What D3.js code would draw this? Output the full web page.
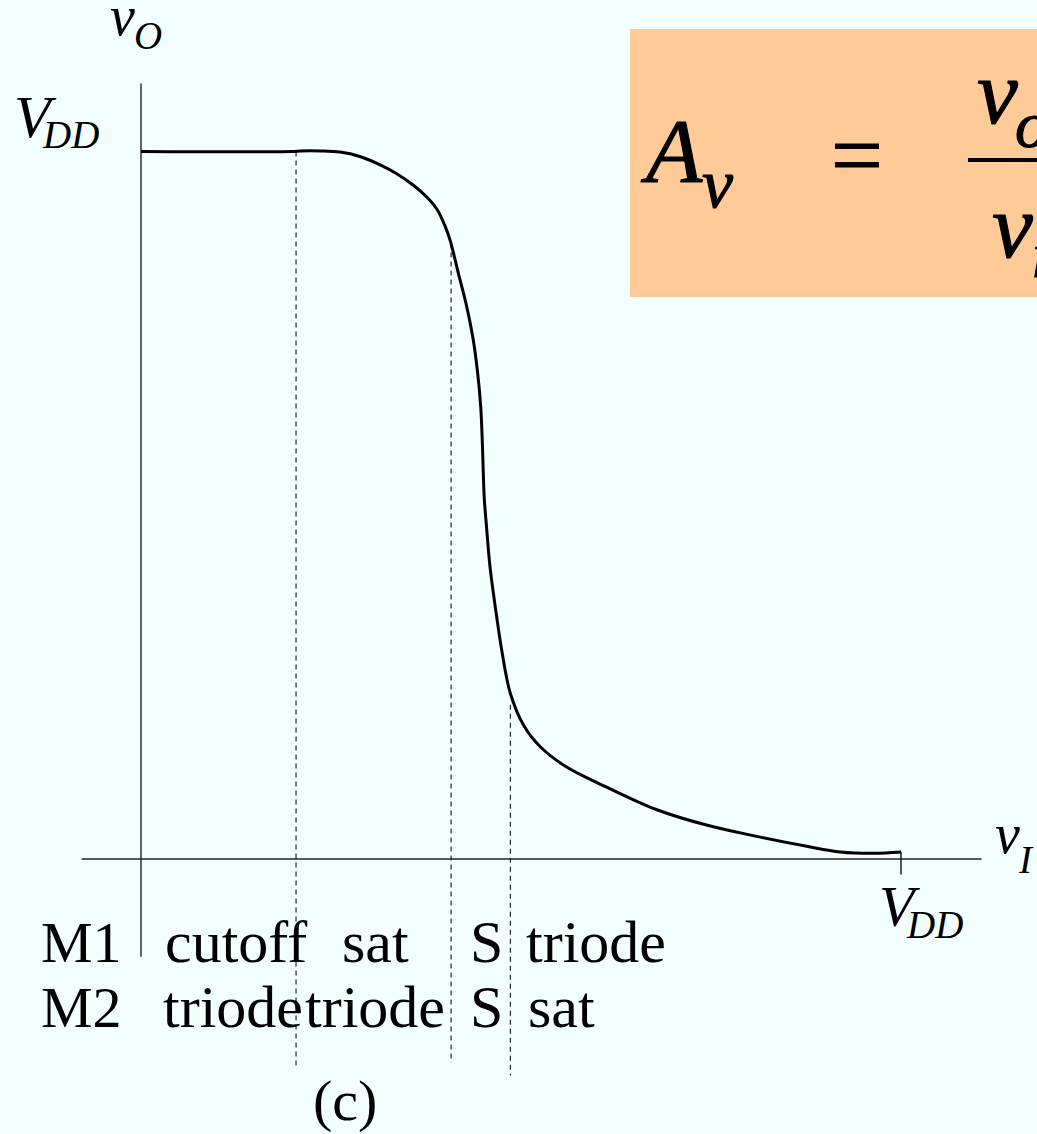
<!DOCTYPE html>
<html>
<head>
<meta charset="utf-8">
<script src="https://cdn.jsdelivr.net/npm/d3@7"></script>
<style>
  html, body { margin: 0; padding: 0; background: #f3fffe; }
  svg { display: block; font-family: "Liberation Serif", "Times New Roman", serif; }
</style>
</head>
<body>
<div id="chart"></div>
<script>
// transfer curve of the inverter (vI and vO in volts, VDD = 5)
var VDD = 5;
var vI = [0, 0.99, 1.05, 1.18, 1.31, 1.44, 1.57, 1.68, 1.79, 1.88,
          1.95, 2.0, 2.033, 2.088, 2.143, 2.186, 2.215, 2.235, 2.245, 2.252,
          2.259, 2.275, 2.296, 2.34, 2.373, 2.43, 2.52, 2.63, 2.80, 3.06,
          3.39, 3.72, 4.05, 4.38, 4.60, 4.82, 5.0];
var vO = [5.0, 5.0, 5.004, 5.004, 4.996, 4.965, 4.908, 4.845, 4.763, 4.678,
          4.587, 4.474, 4.375, 4.139, 3.903, 3.668, 3.433, 3.196, 2.961, 2.726,
          2.537, 2.325, 2.066, 1.712, 1.477, 1.17, 0.94, 0.79, 0.65, 0.51,
          0.35, 0.24, 0.16, 0.09, 0.05, 0.04, 0.05];

// region boundaries (dashed lines)
var boundX = [1.02, 2.04, 2.43];
var boundTop = [5.0, 4.35, 1.09];
var boundBottom = [-1.46, -1.44, -1.53];

// region labels
var rowNames = ["M1", "M2"];
var m1Labels = ["cutoff", "sat", "S", "triode"];
var m2Labels = ["triode", "triode", "S", "sat"];

var W = 1037, H = 1134;

var svg = d3.select("#chart")
    .append("svg")
    .attr("width", W)
    .attr("height", H);

svg.append("rect")
    .attr("width", W).attr("height", H)
    .attr("fill", "#f3fffe");

var x = d3.scaleLinear().domain([0, VDD]).range([141, 901]);
var y = d3.scaleLinear().domain([0, VDD]).range([859, 151.5]);

// axes, plain lines without ticks
svg.append("line")
    .attr("x1", x(0)).attr("x2", x(0))
    .attr("y1", y(-0.69)).attr("y2", y(5.48))
    .attr("stroke", "#222").attr("stroke-width", 1.4);

svg.append("line")
    .attr("x1", x(-0.39)).attr("x2", x(5.53))
    .attr("y1", y(0)).attr("y2", y(0))
    .attr("stroke", "#222").attr("stroke-width", 1.4);

// VDD tick on the vI axis
svg.append("line")
    .attr("x1", x(VDD)).attr("x2", x(VDD))
    .attr("y1", y(0.05)).attr("y2", y(-0.11))
    .attr("stroke", "#111").attr("stroke-width", 1.4);

// dashed region boundaries
svg.selectAll(".bound")
    .data(boundX)
    .enter()
    .append("line")
    .attr("class", "bound")
    .attr("x1", function (d) { return x(d); })
    .attr("x2", function (d) { return x(d); })
    .attr("y1", function (d, i) { return y(boundTop[i]); })
    .attr("y2", function (d, i) { return y(boundBottom[i]); })
    .attr("stroke", "#111")
    .attr("stroke-width", 1.1)
    .attr("stroke-dasharray", "5,4");

// the curve
var pts = vI.map(function (d, i) { return [d, vO[i]]; });
var line = d3.line()
    .x(function (d) { return x(d[0]); })
    .y(function (d) { return y(d[1]); })
    .curve(d3.curveCatmullRom.alpha(0.5));

svg.append("path")
    .datum(pts)
    .attr("d", line)
    .attr("fill", "none")
    .attr("stroke", "#000")
    .attr("stroke-width", 3)
    .attr("stroke-linejoin", "round");

// helper for a letter with a subscript
function subLabel(px, py, main, sub, size, subSize, dx, dy) {
    var t = svg.append("text")
        .attr("x", px).attr("y", py)
        .attr("font-style", "italic")
        .attr("font-size", size)
        .attr("fill", "#000");
    t.append("tspan").text(main);
    t.append("tspan")
        .attr("x", px + dx).attr("y", py + dy)
        .attr("font-size", subSize)
        .text(sub);
}

subLabel(110, 35, "v", "O", 56, 39, 24, 14);
subLabel(14, 137, "V", "DD", 60, 39, 29, 11);
subLabel(879, 926, "V", "DD", 58, 39, 28, 12);
subLabel(995, 853, "v", "I", 56, 39, 24, 20);

// region labels
var rowY = [962, 1027];
var colX1 = [165, 342, 470, 526];
var colX2 = [163, 305, 470, 528];

svg.selectAll(".rowName")
    .data(rowNames)
    .enter()
    .append("text")
    .attr("x", 41)
    .attr("y", function (d, i) { return rowY[i]; })
    .attr("font-size", 58)
    .text(function (d) { return d; });

svg.selectAll(".m1")
    .data(m1Labels)
    .enter()
    .append("text")
    .attr("x", function (d, i) { return colX1[i]; })
    .attr("y", rowY[0])
    .attr("font-size", 60)
    .text(function (d) { return d; });

svg.selectAll(".m2")
    .data(m2Labels)
    .enter()
    .append("text")
    .attr("x", function (d, i) { return colX2[i]; })
    .attr("y", rowY[1])
    .attr("font-size", 60)
    .text(function (d) { return d; });

svg.append("text")
    .attr("x", 313).attr("y", 1120)
    .attr("font-size", 58)
    .text("(c)");

// gain formula box
var box = svg.append("g")
    .attr("stroke", "#000").attr("stroke-width", 1);
box.append("rect")
    .attr("x", 630).attr("y", 29)
    .attr("width", 440).attr("height", 268)
    .attr("fill", "#fecb98")
    .attr("stroke", "none");

var A = box.append("text")
    .attr("x", 646).attr("y", 182)
    .attr("font-size", 92)
    .attr("font-style", "italic");
A.append("tspan").text("A");
A.append("tspan").attr("x", 702).attr("y", 207).attr("font-size", 70).text("v");

box.append("text")
    .attr("x", 831).attr("y", 186)
    .attr("font-size", 92)
    .text("=");

box.append("line")
    .attr("x1", 968).attr("x2", 1040)
    .attr("y1", 160).attr("y2", 160)
    .attr("stroke", "#000").attr("stroke-width", 4);

var num = box.append("text")
    .attr("x", 977).attr("y", 123)
    .attr("font-size", 92)
    .attr("font-style", "italic");
num.append("tspan").text("v");
num.append("tspan").attr("x", 1015).attr("y", 147).attr("font-size", 66).text("o");

var den = box.append("text")
    .attr("x", 992).attr("y", 257)
    .attr("font-size", 92)
    .attr("font-style", "italic");
den.append("tspan").text("v");
den.append("tspan").attr("x", 1031).attr("y", 277).attr("font-size", 66).text("i");
</script>
</body>
</html>
